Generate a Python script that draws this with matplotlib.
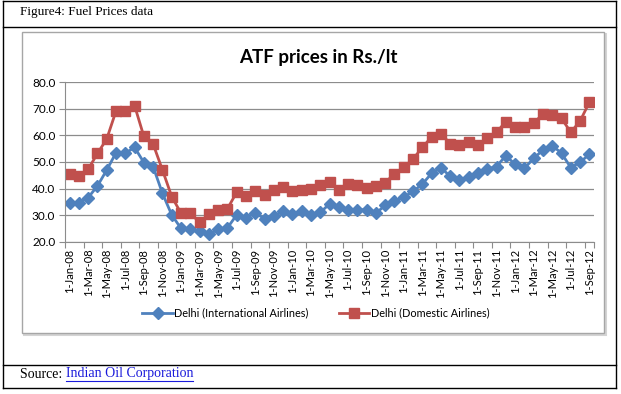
import matplotlib
matplotlib.use("Agg")
import matplotlib.pyplot as plt
from matplotlib.patches import Rectangle
from matplotlib.lines import Line2D

# monthly ATF prices, Jan-08 .. Sep-12
months = ["Jan-08", "Feb-08", "Mar-08", "Apr-08", "May-08", "Jun-08", "Jul-08", "Aug-08",
          "Sep-08", "Oct-08", "Nov-08", "Dec-08", "Jan-09", "Feb-09", "Mar-09", "Apr-09",
          "May-09", "Jun-09", "Jul-09", "Aug-09", "Sep-09", "Oct-09", "Nov-09", "Dec-09",
          "Jan-10", "Feb-10", "Mar-10", "Apr-10", "May-10", "Jun-10", "Jul-10", "Aug-10",
          "Sep-10", "Oct-10", "Nov-10", "Dec-10", "Jan-11", "Feb-11", "Mar-11", "Apr-11",
          "May-11", "Jun-11", "Jul-11", "Aug-11", "Sep-11", "Oct-11", "Nov-11", "Dec-11",
          "Jan-12", "Feb-12", "Mar-12", "Apr-12", "May-12", "Jun-12", "Jul-12", "Aug-12",
          "Sep-12"]

intl = [34.7, 34.7, 36.6, 41.0, 47.0, 53.5, 53.3, 55.5, 49.8, 48.2,
        38.2, 30.1, 25.0, 24.7, 24.0, 22.9, 24.6, 25.2, 30.1, 29.0,
        30.9, 28.6, 29.7, 31.4, 30.5, 31.4, 30.1, 31.0, 34.2, 33.0,
        32.0, 32.0, 32.0, 30.7, 33.7, 35.2, 36.8, 38.9, 41.7, 45.7,
        47.9, 44.6, 43.2, 44.5, 45.7, 47.3, 48.3, 52.4, 49.1, 47.6,
        51.4, 54.5, 56.2, 53.3, 47.9, 49.9, 52.9]

domestic = [45.5, 44.9, 47.3, 53.2, 58.7, 69.2, 69.1, 71.2, 59.6, 56.7,
            47.0, 37.0, 30.7, 30.7, 27.3, 30.3, 31.8, 32.4, 38.6, 37.1,
            39.0, 37.5, 39.6, 40.5, 38.9, 39.4, 39.7, 41.2, 42.4, 39.5,
            41.9, 41.5, 40.1, 41.0, 42.2, 45.6, 48.0, 51.1, 55.5, 59.4,
            60.7, 56.9, 56.4, 57.7, 56.4, 58.9, 61.2, 65.2, 63.1, 63.1,
            64.6, 68.1, 67.7, 66.4, 61.2, 65.4, 72.5]

tick_labels = ["1-" + m for m in months[::2]]

W, H = 621, 394
fig = plt.figure(figsize=(W / 100, H / 100), dpi=100)
fig.patch.set_facecolor("white")


def fx(px):
    return px / W


def fy(py):
    return 1 - py / H


# document table borders
for y in [1, 27, 365, 388]:
    fig.add_artist(Line2D([fx(3), fx(616)], [fy(y), fy(y)], color="black", lw=1.0, zorder=0))
for x in [3, 616]:
    fig.add_artist(Line2D([fx(x), fx(x)], [fy(1), fy(388)], color="black", lw=1.0, zorder=0))

fig.text(fx(20), fy(12), "Figure4: Fuel Prices data", family="Liberation Serif",
         fontsize=9.5, va="center", ha="left")

# chart frame with light shadow
fig.add_artist(Rectangle((fx(24), fy(335)), fx(582), fy(34) - fy(335),
                         transform=fig.transFigure, fill=False, ec="#d4d4d4", lw=1.5, zorder=0))
fig.add_artist(Rectangle((fx(22), fy(333)), fx(582), fy(32) - fy(333),
                         transform=fig.transFigure, fc="white", ec="#a6a6a6", lw=1.0, zorder=0))

fig.text(fx(318), fy(57), "ATF prices in Rs./lt", family="Lato", fontweight="bold",
         fontsize=13.5, ha="center", va="center")

ax = fig.add_axes([fx(65), fy(241.7), fx(529), fy(82.3) - fy(241.7)])
ax.set_zorder(5)
ax.patch.set_alpha(0)
x = list(range(len(months)))
ax.plot(x, intl, color="#4F81BD", lw=2.0, marker="D", ms=6, mec="#4F81BD",
        label="Delhi (International Airlines)")
ax.plot(x, domestic, color="#C0504D", lw=2.0, marker="s", ms=7.5, mec="#C0504D",
        label="Delhi (Domestic Airlines)")

ax.set_xlim(-0.5, len(months) - 0.5)
ax.set_ylim(20, 80)
ax.set_yticks([20, 30, 40, 50, 60, 70, 80])
ax.set_yticklabels([f"{v:.1f}" for v in [20, 30, 40, 50, 60, 70, 80]],
                   family="Lato", fontsize=8.5)
ax.yaxis.grid(True, color="#8c8c8c", lw=0.9)
ax.set_axisbelow(True)

major = [i - 0.5 for i in range(0, len(months), 2)] + [len(months) - 0.5]
ax.set_xticks(major)
ax.set_xticklabels([])
ax.set_xticks(x[::2], minor=True)
ax.set_xticklabels(tick_labels, minor=True, rotation=90, family="Lato", fontsize=8)
ax.tick_params(axis="x", which="minor", length=0, pad=5)
ax.tick_params(axis="x", which="major", length=4, color="#8c8c8c")
ax.tick_params(axis="y", length=4, color="#8c8c8c", pad=3)

for s in ["top", "right"]:
    ax.spines[s].set_visible(False)
for s in ["left", "bottom"]:
    ax.spines[s].set_color("#8c8c8c")

leg = fig.legend(loc="center", bbox_to_anchor=(fx(316), fy(313)), ncol=2, frameon=False,
                 prop={"family": "Lato", "size": 7.8}, handlelength=2.8,
                 columnspacing=2.8, handletextpad=0.15)
leg.set_zorder(6)

fig.text(fx(20), fy(374), "Source: ", family="Liberation Serif", fontsize=10,
         va="center", ha="left")
fig.canvas.draw()
r = fig.canvas.get_renderer()
src = fig.texts[-1].get_window_extent(r)
link = fig.text(src.x1 / W, fy(374), "Indian Oil Corporation", family="Liberation Serif",
                fontsize=10, va="center", ha="left", color="#1a1adb")
fig.canvas.draw()
lb = link.get_window_extent(r)
fig.add_artist(Line2D([lb.x0 / W, lb.x1 / W], [fy(381), fy(381)], color="#1a1adb", lw=0.8))

fig.savefig("out.png", dpi=100)
